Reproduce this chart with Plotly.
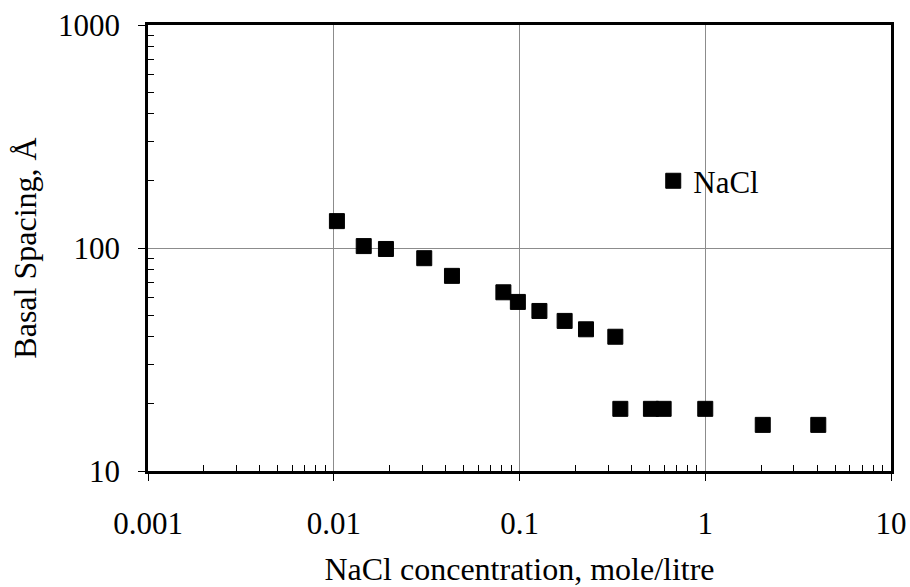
import plotly.graph_objects as go

# Data
conc = [0.0104, 0.0145, 0.0191, 0.0307, 0.0433, 0.0819, 0.098, 0.128, 0.175, 0.228, 0.328,
        0.349, 0.51, 0.597, 1.0, 2.04, 4.06]
spacing = [132, 102, 99, 90, 75, 63.3, 57.3, 52.2, 47.1, 43.2, 40.0,
           19.0, 19.0, 19.0, 19.0, 16.1, 16.1]

x_tickvals = [0.001, 0.01, 0.1, 1, 10]
x_ticktext = ["0.001", "0.01", "0.1", "1", "10"]
y_tickvals = [10, 100, 1000]
y_ticktext = ["10", "100", "1000"]

x_minor = [m * 10 ** e for e in range(-3, 1) for m in range(2, 10)]
y_minor = [m * 10 ** e for e in range(1, 3) for m in range(2, 10)]

FONT = "Liberation Serif"

fig = go.Figure()
fig.add_trace(go.Scatter(
    x=conc, y=spacing, mode="markers", name="NaCl",
    marker=dict(symbol="square", size=15, color="black",
                line=dict(color="black", width=1)),
))

axis_common = dict(
    type="log",
    showline=True, linecolor="black", linewidth=2.5, mirror=True,
    ticks="outside", ticklen=7, tickcolor="black", tickwidth=1,
    showgrid=True, gridcolor="#8c8c8c", gridwidth=1,
    zeroline=False,
    tickfont=dict(family=FONT, size=31, color="black"),
    tickmode="array",
)

fig.update_xaxes(
    **axis_common,
    range=[-3, 1],
    tickvals=x_tickvals, ticktext=x_ticktext,
    ticklabelstandoff=16,
    minor=dict(tickmode="array", tickvals=x_minor, ticks="inside", ticklen=6,
               tickcolor="black", tickwidth=1.3, showgrid=False),
    title=dict(text="NaCl concentration, mole/litre",
               font=dict(family=FONT, size=32, color="black"), standoff=18),
)
fig.update_yaxes(
    **axis_common,
    range=[1, 3],
    tickvals=y_tickvals, ticktext=y_ticktext,
    ticklabelstandoff=12,
    minor=dict(tickmode="array", tickvals=y_minor, ticks="inside", ticklen=6,
               tickcolor="black", tickwidth=1.3, showgrid=False),
    title=dict(text="Basal Spacing, Å",
               font=dict(family=FONT, size=32, color="black"), standoff=12),
)

fig.update_layout(
    width=910, height=587,
    margin=dict(l=148, r=19, t=25, b=116, autoexpand=False),
    paper_bgcolor="white", plot_bgcolor="white",
    showlegend=True,
    legend=dict(x=0.68, y=0.65, xanchor="left", yanchor="middle",
                bgcolor="rgba(0,0,0,0)",
                font=dict(family=FONT, size=31, color="black")),
)

fig.write_html("out.html")
